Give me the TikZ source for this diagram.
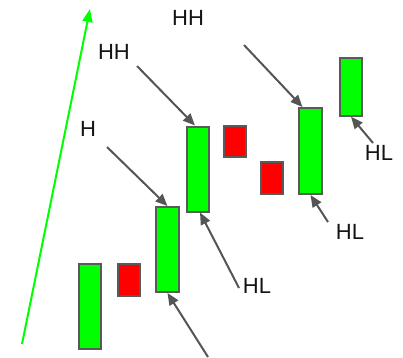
\documentclass[tikz,border=0pt]{standalone}
\usepackage{fontspec}
\setmainfont{Liberation Sans}
\usetikzlibrary{arrows.meta}
\definecolor{verde}{RGB}{0,255,0}
\definecolor{vermelho}{RGB}{255,0,0}
\definecolor{borda}{RGB}{90,90,90}
\definecolor{cinza}{RGB}{85,85,85}
\definecolor{texto}{RGB}{20,20,20}
\begin{document}
\begin{tikzpicture}[x=1pt,y=-1pt,
  vela/.style={draw=borda, line width=2pt, minimum width=22.5pt, inner sep=0pt},
  alta/.style={vela, fill=verde},
  baixa/.style={vela, fill=vermelho},
  seta/.style={cinza, line width=2pt, -{Triangle[length=12pt,width=10pt]}},
  rotulo/.style={font=\fontsize{22}{26}\selectfont, text=texto, inner sep=0pt}]
  \useasboundingbox (0,0) rectangle (403,357);
  % Tendencia
  \coordinate (t0) at (22,344);
  \coordinate (t1) at (90,9);
  \draw[verde, line width=2pt, -{Triangle[length=13pt,width=10pt]}] (t0) -- (t1);
  % Velas
  \node[alta, minimum height=85pt] (c1) at (90,306.5) {};
  \node[baixa, minimum height=31.5pt] (c2) at (129,280) {};
  \node[alta, minimum height=85pt] (c3) at (167.5,249.5) {};
  \node[alta, minimum height=85pt] (c4) at (198,169) {};
  \node[baixa, minimum height=31.5pt] (c5) at (235,141.5) {};
  \node[baixa, minimum height=32pt] (c6) at (272,178) {};
  \node[alta, minimum height=86pt] (c7) at (310.5,151) {};
  \node[alta, minimum height=58pt] (c8) at (351,86.7) {};
  % Rotulos
  \node[rotulo] (hh1) at (188,18) {HH};
  \node[rotulo] (hh2) at (114,52) {HH};
  \node[rotulo] (h) at (88,129) {H};
  \node[rotulo] (hl1) at (257,286) {HL};
  \node[rotulo] (hl2) at (350,232) {HL};
  \node[rotulo] (hl3) at (379,153) {HL};
  % Setas
  \coordinate (a1) at (107,147);
  \coordinate (a2) at (137,66);
  \coordinate (a3) at (244,45);
  \coordinate (a4) at (373,143);
  \coordinate (a5) at (328,222);
  \coordinate (a6) at (239,288);
  \coordinate (a7) at (208,357);
  \draw[seta] (a1) -- (c3.north);
  \draw[seta] (a2) -- ([xshift=-3pt]c4.north);
  \draw[seta] (a3) -- ([xshift=-8pt]c7.north);
  \draw[seta] (a4) -- (c8.south);
  \draw[seta] (a5) -- (c7.south);
  \draw[seta] (a6) -- ([xshift=2pt]c4.south);
  \draw[seta] (a7) -- (c3.south);
\end{tikzpicture}
\end{document}
